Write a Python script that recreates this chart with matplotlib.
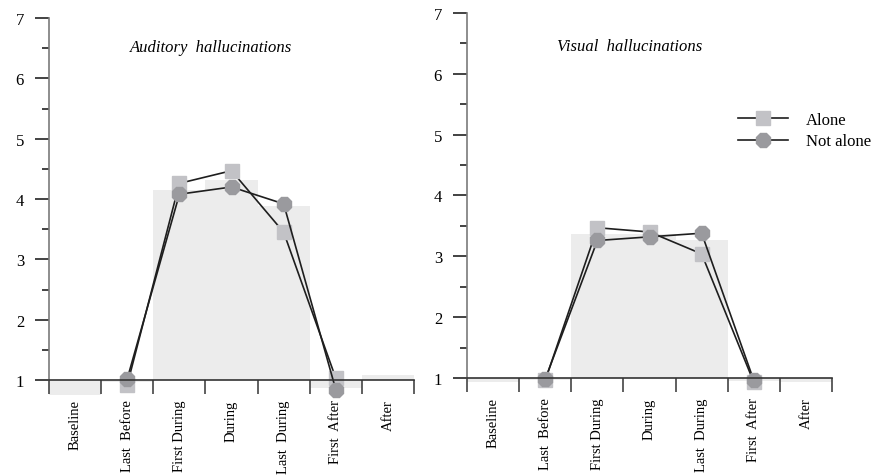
import numpy as np
import matplotlib
matplotlib.use('Agg')
import matplotlib.pyplot as plt

plt.rcParams['font.family'] = ['Liberation Serif', 'DejaVu Serif']

# Data
categories = ['Baseline', 'Last  Before', 'First During', 'During',
              'Last  During', 'First  After', 'After']
nan = np.nan

aud_mean = [0.75, 0.97, 4.15, 4.32, 3.89, 0.87, 1.08]
aud_alone = [nan, 0.92, 4.26, 4.47, 3.45, 1.03, nan]
aud_not_alone = [nan, 1.02, 4.08, 4.20, 3.92, 0.84, nan]

vis_mean = [0.93, 0.97, 3.36, 3.36, 3.26, 0.95, 0.93]
vis_alone = [nan, 0.96, 3.47, 3.40, 3.04, 0.93, nan]
vis_not_alone = [nan, 0.98, 3.26, 3.32, 3.38, 0.96, nan]

titles = ['Auditory  hallucinations', 'Visual  hallucinations']

fig = plt.figure(figsize=(8.82, 4.77), dpi=100)
ax1 = fig.add_axes([0.0556, 0.1633, 0.4138, 0.7967])
ax2 = fig.add_axes([0.5295, 0.1673, 0.4138, 0.8033])

bar_col = '#ececec'
alone_col = '#c2c2c6'
notalone_col = '#9a9a9e'
line_col = '#1e1e1e'


def draw_panel(ax, mean, alone, not_alone, title, title_y):
    x = np.arange(len(categories))
    ax.bar(x, np.array(mean) - 1, bottom=1, width=1, align='edge',
           color=bar_col, zorder=1)
    ax.plot(x + 0.5, alone, color=line_col, lw=1.2, marker='s', ms=10.5,
            mfc=alone_col, mec=alone_col, zorder=3, label='Alone')
    ax.plot(x + 0.5, not_alone, color=line_col, lw=1.2, marker='8', ms=10.5,
            mfc=notalone_col, mec=notalone_col, zorder=4, label='Not alone')

    ax.set_xlim(0, len(categories))
    ax.set_ylim(0.7, 7)
    for s in ['top', 'right']:
        ax.spines[s].set_visible(False)
    ax.spines['left'].set_bounds(1, 7)
    ax.spines['left'].set_color('#7a7a7a')
    ax.spines['left'].set_linewidth(1.2)
    ax.spines['bottom'].set_position(('data', 1))
    ax.spines['bottom'].set_color('#333333')
    ax.spines['bottom'].set_linewidth(1.2)
    ax.spines['bottom'].set_zorder(5)

    ax.set_yticks(range(1, 8))
    ax.set_yticks(np.arange(1.5, 7, 1), minor=True)
    ax.tick_params(axis='y', which='major', direction='out', length=10,
                   width=1.2, color='#222222', pad=8, labelsize=12)
    ax.tick_params(axis='y', which='minor', direction='out', length=5,
                   width=1.2, color='#222222')

    ax.set_xticks(range(len(categories) + 1))
    ax.set_xticklabels([])
    ax.set_xticks(x + 0.5, minor=True)
    ax.set_xticklabels(categories, minor=True, rotation=90, va='top')
    ax.tick_params(axis='x', which='major', direction='out', length=10,
                   width=1.2, color='#444444')
    ax.tick_params(axis='x', which='minor', length=0, pad=14, labelsize=10.5)

    ax.text(0.445, title_y, title, transform=ax.transAxes, ha='center',
            va='center', style='italic', fontsize=12)


draw_panel(ax1, aud_mean, aud_alone, aud_not_alone, titles[0], 0.924)
draw_panel(ax2, vis_mean, vis_alone, vis_not_alone, titles[1], 0.914)

ax2.legend(loc='center left', bbox_to_anchor=(0.8367, 0.7243),
           bbox_transform=fig.transFigure, frameon=False, fontsize=12,
           handlelength=3, handletextpad=1.1, labelspacing=0.35,
           borderpad=0, borderaxespad=0)

plt.savefig('out.png', dpi=100)
